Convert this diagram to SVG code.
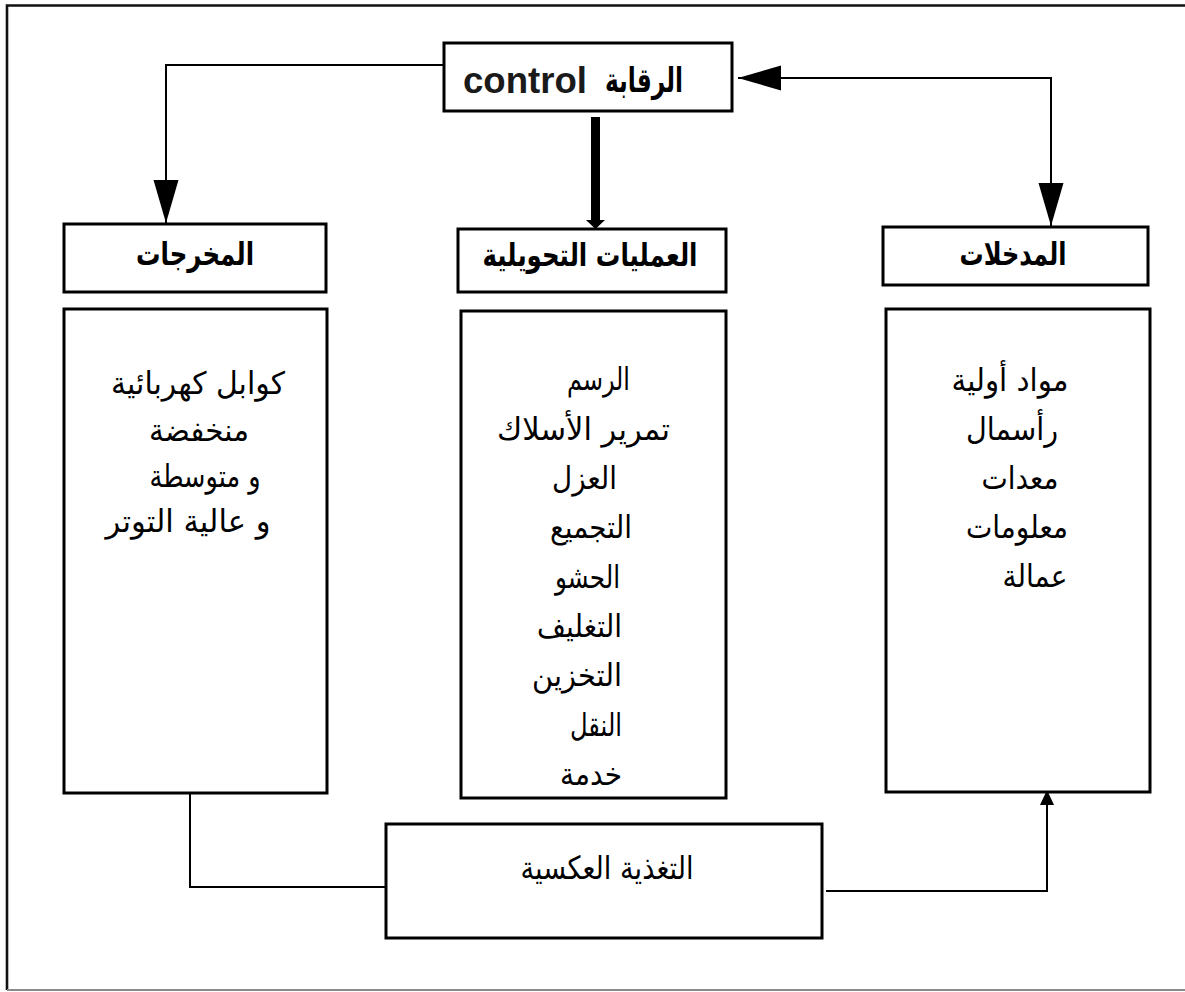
<svg xmlns="http://www.w3.org/2000/svg" width="1185" height="992" viewBox="0 0 1185 992">
  <style>
    .box { fill: #fff; stroke: #000; stroke-width: 3; }
    .wire { fill: none; stroke: #000; stroke-width: 2; }
    .ar { font-family: "DejaVu Sans", sans-serif; font-size: 31px; text-anchor: middle; fill: #000; }
    .hd { font-family: "DejaVu Sans", sans-serif; font-size: 32px; font-weight: bold; text-anchor: middle; fill: #000; }
    .lat { font-family: "Liberation Sans", Arial, sans-serif; font-size: 36px; font-weight: bold; fill: #1a1a1a; }
  </style>
  <defs>
    <marker id="bigHead" markerUnits="userSpaceOnUse" markerWidth="44" markerHeight="26" refX="43" refY="12.5" orient="auto-start-reverse">
      <path d="M0,0 L43,12.5 L0,25 Z" fill="#000"/>
    </marker>
    <marker id="smallHead" markerUnits="userSpaceOnUse" markerWidth="16" markerHeight="15" refX="15" refY="7" orient="auto">
      <path d="M0,0 L15,7 L0,14 Z" fill="#000"/>
    </marker>
  </defs>

  <rect width="1185" height="992" fill="#fff"/>

  <!-- page frame: open on the right -->
  <g id="frame">
    <path d="M1190,5.5 H7 V990" fill="none" stroke="#111" stroke-width="2.6"/>
    <path d="M7,990 H1190" fill="none" stroke="#8a8a8a" stroke-width="2"/>
  </g>

  <!-- connectors -->
  <g id="connectors">
    <path class="wire" d="M444,65 H166 V223" marker-end="url(#bigHead)"/>
    <path class="wire" d="M738,78 H1051 V226" marker-start="url(#bigHead)" marker-end="url(#bigHead)"/>
    <path d="M595.5,117 V222" stroke="#000" stroke-width="9" fill="none"/>
    <polygon points="586,220 605,220 595.5,229" fill="#000"/>
    <path class="wire" d="M190,793 V887 H386"/>
    <path class="wire" d="M826,891 H1047 V790" marker-end="url(#smallHead)"/>
  </g>

  <!-- control -->
  <g id="control">
    <rect class="box" x="444" y="43" width="288" height="68"/>
    <text class="lat" x="463" y="93" textLength="124" lengthAdjust="spacingAndGlyphs">control</text>
    <text class="hd" x="644" y="92" style="font-size:34px" textLength="78" lengthAdjust="spacingAndGlyphs">الرقابة</text>
  </g>

  <!-- outputs -->
  <g id="outputs-head">
    <rect class="box" x="64" y="224" width="262" height="68"/>
    <text class="hd" x="195" y="265" textLength="118" lengthAdjust="spacingAndGlyphs">المخرجات</text>
  </g>
  <g id="outputs-body">
    <rect class="box" x="64" y="309" width="263" height="484"/>
    <text class="ar" x="198" y="394" textLength="174" lengthAdjust="spacingAndGlyphs">كوابل كهربائية</text>
    <text class="ar" x="199" y="441" textLength="100" lengthAdjust="spacingAndGlyphs">منخفضة</text>
    <text class="ar" x="205" y="487" textLength="111" lengthAdjust="spacingAndGlyphs">و متوسطة</text>
    <text class="ar" x="188" y="532" textLength="165" lengthAdjust="spacingAndGlyphs">و عالية التوتر</text>
  </g>

  <!-- transformation processes -->
  <g id="transform-head">
    <rect class="box" x="458" y="229" width="268" height="63"/>
    <text class="hd" x="590" y="266" textLength="215" lengthAdjust="spacingAndGlyphs">العمليات التحويلية</text>
  </g>
  <g id="transform-body">
    <rect class="box" x="461" y="311" width="265" height="487"/>
    <text class="ar" x="598.5" y="390" textLength="63" lengthAdjust="spacingAndGlyphs">الرسم</text>
    <text class="ar" x="583.5" y="440" textLength="173" lengthAdjust="spacingAndGlyphs">تمرير الأسلاك</text>
    <text class="ar" x="584.5" y="489" textLength="65" lengthAdjust="spacingAndGlyphs">العزل</text>
    <text class="ar" x="591" y="538" textLength="82" lengthAdjust="spacingAndGlyphs">التجميع</text>
    <text class="ar" x="587.5" y="588" textLength="65" lengthAdjust="spacingAndGlyphs">الحشو</text>
    <text class="ar" x="579.5" y="637" textLength="85" lengthAdjust="spacingAndGlyphs">التغليف</text>
    <text class="ar" x="577" y="686" textLength="90" lengthAdjust="spacingAndGlyphs">التخزين</text>
    <text class="ar" x="596" y="736" textLength="52" lengthAdjust="spacingAndGlyphs">النقل</text>
    <text class="ar" x="591" y="785" textLength="62" lengthAdjust="spacingAndGlyphs">خدمة</text>
  </g>

  <!-- inputs -->
  <g id="inputs-head">
    <rect class="box" x="883" y="227" width="265" height="58"/>
    <text class="hd" x="1013" y="265" textLength="107" lengthAdjust="spacingAndGlyphs">المدخلات</text>
  </g>
  <g id="inputs-body">
    <rect class="box" x="886" y="309" width="264" height="483"/>
    <text class="ar" x="1010" y="391" textLength="117" lengthAdjust="spacingAndGlyphs">مواد أولية</text>
    <text class="ar" x="1012" y="440" textLength="92" lengthAdjust="spacingAndGlyphs">رأسمال</text>
    <text class="ar" x="1020" y="489" textLength="77" lengthAdjust="spacingAndGlyphs">معدات</text>
    <text class="ar" x="1017" y="538" textLength="102" lengthAdjust="spacingAndGlyphs">معلومات</text>
    <text class="ar" x="1035" y="587" textLength="65" lengthAdjust="spacingAndGlyphs">عمالة</text>
  </g>

  <!-- feedback -->
  <g id="feedback">
    <rect class="box" x="386" y="824" width="436" height="114"/>
    <text class="ar" x="607" y="879" style="font-size:32px" textLength="173" lengthAdjust="spacingAndGlyphs">التغذية العكسية</text>
  </g>
</svg>
